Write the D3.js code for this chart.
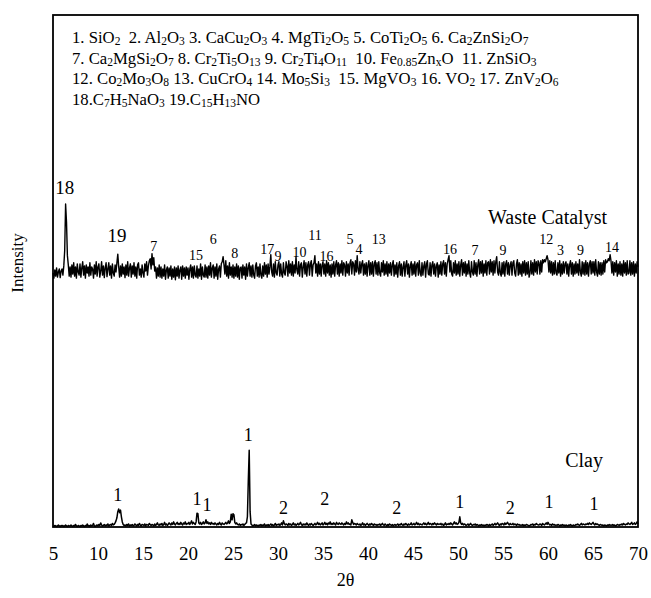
<!DOCTYPE html>
<html>
<head>
<meta charset="utf-8">
<script src="https://cdn.jsdelivr.net/npm/d3@7"></script>
<style>
  html, body { margin: 0; padding: 0; background: #fff; }
  svg { display: block; font-family: "Liberation Serif", "Times New Roman", serif; }
  text { white-space: pre; }
</style>
</head>
<body>
<svg id="chart" width="651" height="598"></svg>
<script>
// XRD patterns, sampled every 0.1 degree 2θ from 5 to 70 (intensity, a.u.)
const thetaStart = 5;
const thetaStep = 0.1;

const wasteCatalyst = [
  18,8,24,12,28,10,20,26,9,22,
  26,14,32,62,153,118,52,34,12,30,
  10,34,16,38,12,30,8,36,20,14,
  36,10,28,40,14,32,8,34,18,30,
  12,38,14,30,26,8,34,16,40,12,
  30,36,10,22,40,14,32,9,28,38,
  11,26,38,14,32,8,36,18,12,34,
  20,38,55,30,10,32,12,36,16,30,
  9,34,14,40,12,28,36,10,32,16,
  38,12,30,8,34,38,14,26,10,34,
  18,10,36,22,40,14,32,42,46,26,
  56,34,48,22,30,8,28,12,34,10,
  30,8,26,12,34,6,24,30,8,28,
  12,32,6,26,10,30,5,28,12,32,
  8,24,30,6,32,12,28,8,30,14,
  28,6,26,34,10,30,8,32,14,10,
  32,8,26,12,36,6,30,14,10,34,
  10,30,8,32,14,38,10,28,34,8,
  30,12,36,6,26,32,10,36,40,50,
  34,16,42,12,32,8,38,14,30,10,
  34,8,30,12,36,10,32,6,28,30,
  8,34,14,30,6,36,12,28,38,12,
  32,10,34,14,8,32,38,12,30,10,
  36,14,8,32,12,38,16,34,10,36,
  16,30,54,20,12,36,10,40,18,14,
  34,40,12,36,16,10,38,18,14,40,
  32,12,42,18,36,14,40,12,34,18,
  50,24,16,40,12,34,38,10,30,42,
  16,38,12,34,40,14,36,42,12,34,
  38,52,18,36,12,40,16,36,12,34,
  40,16,36,12,42,18,38,14,34,10,
  36,16,40,12,34,42,16,38,12,36,
  18,42,14,38,34,12,40,18,36,14,
  38,44,16,40,36,14,42,20,52,24,
  16,40,18,36,42,14,36,16,38,12,
  34,42,14,38,16,40,12,36,42,16,
  38,14,40,18,12,38,20,42,14,36,
  16,40,12,36,18,38,14,34,42,12,
  34,16,38,10,32,40,14,36,12,30,
  40,12,34,42,16,36,10,32,40,14,
  36,16,40,12,34,38,14,42,18,12,
  38,14,32,40,10,36,42,16,14,38,
  12,34,40,16,36,12,32,38,10,34,
  16,40,14,36,42,16,38,12,36,44,
  52,20,42,16,12,38,18,42,14,36,
  16,40,12,34,44,14,38,18,40,12,
  36,16,42,18,10,40,20,14,42,16,
  38,12,34,44,16,40,18,42,12,36,
  18,42,14,38,40,16,44,20,40,14,
  42,18,40,50,20,14,40,18,12,38,
  16,40,12,36,42,16,38,14,34,40,
  14,38,42,18,12,36,44,14,38,16,
  36,12,40,18,42,14,38,16,40,10,
  18,42,16,38,14,44,20,40,16,42,
  38,16,42,20,44,38,44,40,46,52,
  44,20,42,18,40,14,38,16,42,18,
  14,38,18,42,12,36,16,40,18,36,
  40,16,36,12,34,42,16,38,12,36,
  16,40,18,36,14,44,20,12,40,16,
  38,14,42,16,38,12,36,42,16,40,
  18,40,14,44,20,12,40,16,38,14,
  38,16,42,20,44,38,40,46,42,54,
  42,18,40,14,38,20,42,12,36,16,
  40,14,36,12,42,18,38,14,42,16,
  18,42,14,38,16,40,12,36,18,40,
  30
];

const clay = [
  2,1,3,2,1,2,4,2,1,3,
  2,3,1,2,4,2,1,3,2,2,
  4,2,1,3,2,5,2,1,3,2,
  1,3,2,4,2,1,3,2,6,2,
  3,1,4,2,3,7,2,1,3,4,
  2,5,3,8,4,2,3,5,2,4,
  3,6,2,4,5,3,7,4,5,8,
  12,18,30,35,28,33,20,10,5,3,
  4,2,5,3,6,2,4,3,5,2,
  3,6,4,2,5,3,7,4,2,5,
  4,3,6,2,5,4,3,7,5,3,
  5,4,2,6,3,5,8,4,3,6,
  4,7,3,5,9,4,6,3,5,8,
  6,4,8,5,10,6,4,7,9,5,
  7,5,9,6,4,8,6,10,5,7,
  6,9,5,8,12,6,9,7,5,10,
  27,26,8,6,9,5,7,10,6,8,
  14,7,10,6,8,5,9,6,7,5,
  8,6,4,7,5,9,6,4,8,6,
  5,7,9,6,8,12,7,10,25,14,
  26,24,9,6,8,5,4,6,3,5,
  4,6,3,5,7,8,20,90,150,30,
  6,4,2,3,5,2,4,3,2,4,
  3,5,2,4,3,6,2,4,3,5,
  2,4,6,3,5,2,4,7,3,5,
  4,6,3,5,8,4,12,7,4,6,
  5,3,7,4,6,3,5,8,4,6,
  3,5,7,4,6,9,5,3,6,4,
  6,4,8,5,3,6,4,7,5,3,
  5,7,4,6,9,5,7,4,6,8,
  4,6,9,5,7,4,8,6,10,5,
  7,5,8,6,4,9,6,5,8,6,
  5,8,6,4,7,5,10,6,8,5,
  6,4,14,9,5,7,6,4,7,5,
  4,6,3,5,8,4,6,3,5,7,
  5,3,6,4,7,5,3,6,4,5,
  3,5,4,6,3,5,7,4,3,6,
  4,2,5,3,6,4,3,5,2,4,
  5,3,4,6,3,5,4,7,4,3,
  6,4,7,5,3,6,4,5,8,4,
  5,7,4,6,9,5,7,4,6,5,
  4,6,8,5,7,4,6,9,5,7,
  6,4,7,5,8,6,4,7,5,6,
  5,7,4,6,3,5,8,4,6,5,
  7,5,8,6,4,7,10,6,8,5,
  6,9,20,8,5,7,4,6,5,3,
  4,6,3,5,7,4,3,5,4,6,
  3,5,4,2,4,3,5,3,4,2,
  4,3,5,4,2,5,3,4,6,3,
  5,7,4,6,8,5,3,6,4,7,
  6,4,8,5,7,9,6,4,7,5,
  5,7,4,6,5,3,6,4,5,3,
  4,3,5,2,4,3,5,4,3,2,
  3,5,4,6,3,5,4,7,5,4,
  4,6,5,3,7,5,4,6,8,5,
  9,6,4,5,3,6,4,5,3,4,
  3,5,4,2,4,3,5,3,4,2,
  4,3,2,4,3,5,3,2,4,3,
  3,5,4,6,4,3,5,7,4,6,
  5,4,6,5,7,5,8,6,5,7,
  9,6,4,7,5,6,4,3,5,4,
  3,4,2,4,3,2,4,3,5,3,
  4,3,5,3,4,2,3,5,4,3,
  5,4,6,4,7,5,4,6,5,8,
  6,5,7,9,5,6,8,5,7,10,
  6
];

// vertical stacking offset of the waste catalyst pattern (a.u.)
const wasteOffset = 478;

const xTicks = [5, 10, 15, 20, 25, 30, 35, 40, 45, 50, 55, 60, 65, 70];

// phase key; {..} marks a subscript
const legendLines = [
  "1. SiO{2}  2. Al{2}O{3} 3. CaCu{2}O{3} 4. MgTi{2}O{5} 5. CoTi{2}O{5} 6. Ca{2}ZnSi{2}O{7}",
  "7. Ca{2}MgSi{2}O{7} 8. Cr{2}Ti{5}O{13} 9. Cr{2}Ti{4}O{11}  10. Fe{0.85}Zn{x}O  11. ZnSiO{3}",
  "12. Co{2}Mo{3}O{8} 13. CuCrO{4} 14. Mo{5}Si{3}  15. MgVO{3} 16. VO{2} 17. ZnV{2}O{6}",
  "18.C{7}H{5}NaO{3} 19.C{15}H{13}NO"
];

// peak markers: [2θ, phase number, label height above the pattern's own zero (a.u.)]
const wasteMajorLabels = [[6.3, "18", 172], [12.1, "19", 79]];
const wasteMinorLabels = [
  [16.2, "7", 61], [20.9, "15", 43], [22.8, "6", 75], [25.2, "8", 47],
  [28.8, "17", 55], [30.0, "9", 41], [32.4, "10", 49], [34.1, "11", 83],
  [35.4, "16", 41], [38.0, "5", 75], [39.0, "4", 55], [41.2, "13", 75],
  [49.1, "16", 55], [51.9, "7", 53], [55.0, "9", 53], [59.8, "12", 75],
  [61.4, "3", 53], [63.6, "9", 53], [67.1, "14", 59]
];
const clayLabels = [
  [12.2, "1", 51], [21.0, "1", 43], [22.1, "1", 31], [26.7, "1", 168],
  [30.6, "2", 25], [35.2, "2", 43], [43.2, "2", 25], [50.2, "1", 37],
  [55.8, "2", 25], [60.1, "1", 37], [65.1, "1", 33]
];

const seriesNames = { waste: "Waste Catalyst", clay: "Clay" };

const svg = d3.select("#chart");
const plot = { left: 53, right: 638, top: 15, bottom: 527 };

const x = d3.scaleLinear().domain([5, 70]).range([plot.left, plot.right]);
const y = d3.scaleLinear().domain([0, 1000]).range([plot.bottom, plot.top]);

const theta = i => thetaStart + i * thetaStep;

// diffraction traces
const wasteLine = d3.line().x((d, i) => x(theta(i))).y(d => y(d + wasteOffset));
const clayLine = d3.line().x((d, i) => x(theta(i))).y(d => y(d));

svg.append("path").datum(wasteCatalyst)
  .attr("d", wasteLine).attr("fill", "none")
  .attr("stroke", "#000").attr("stroke-width", 1.4).attr("stroke-linejoin", "round");

svg.append("path").datum(clay)
  .attr("d", clayLine).attr("fill", "none")
  .attr("stroke", "#000").attr("stroke-width", 1.5).attr("stroke-linejoin", "round");

// plot frame
svg.append("rect")
  .attr("x", plot.left).attr("y", plot.top)
  .attr("width", plot.right - plot.left).attr("height", plot.bottom - plot.top)
  .attr("fill", "none").attr("stroke", "#000").attr("stroke-width", 1.8);

// x axis labels (no tick marks)
const xAxis = svg.append("g")
  .attr("transform", `translate(0,${plot.bottom})`)
  .call(d3.axisBottom(x).tickValues(xTicks).tickSize(0).tickFormat(d3.format("d")));
xAxis.select(".domain").remove();
xAxis.selectAll("text")
  .attr("y", 33).attr("dy", null)
  .attr("font-family", "Liberation Serif, serif")
  .attr("font-size", 19).attr("fill", "#000");

svg.append("text")
  .attr("x", (plot.left + plot.right) / 2).attr("y", 586)
  .attr("text-anchor", "middle").attr("font-size", 18)
  .text("2θ");

svg.append("text")
  .attr("transform", "translate(23,263) rotate(-90)")
  .attr("text-anchor", "middle").attr("font-size", 17)
  .text("Intensity");

// phase key
function richText(sel, str, baseSize, subSize) {
  const parts = str.split(/(\{[^}]*\})/).filter(p => p.length);
  let lowered = false;
  parts.forEach(p => {
    const isSub = p.startsWith("{");
    const t = sel.append("tspan").text(isSub ? p.slice(1, -1) : p)
      .attr("font-size", isSub ? subSize : baseSize);
    if (isSub && !lowered) { t.attr("dy", 2); lowered = true; }
    else if (!isSub && lowered) { t.attr("dy", -2); lowered = false; }
  });
}

const legendG = svg.append("g");
legendLines.forEach((line, i) => {
  const t = legendG.append("text")
    .attr("x", 72).attr("y", 43 + i * 20.5);
  richText(t, line, 16.7, 11.5);
});

// peak labels
function drawLabels(list, offset, size) {
  svg.append("g").selectAll("text").data(list).join("text")
    .attr("x", d => x(d[0])).attr("y", d => y(d[2] + offset))
    .attr("text-anchor", "middle").attr("font-size", size)
    .text(d => d[1]);
}
drawLabels(wasteMajorLabels, wasteOffset, 19);
drawLabels(wasteMinorLabels, wasteOffset, 14);
drawLabels(clayLabels, 0, 18);

// series names
svg.append("text").attr("x", x(70) - 31).attr("y", y(wasteOffset + 114))
  .attr("text-anchor", "end").attr("font-size", 20).text(seriesNames.waste);
svg.append("text").attr("x", x(70) - 35).attr("y", y(117))
  .attr("text-anchor", "end").attr("font-size", 20).text(seriesNames.clay);
</script>
</body>
</html>
